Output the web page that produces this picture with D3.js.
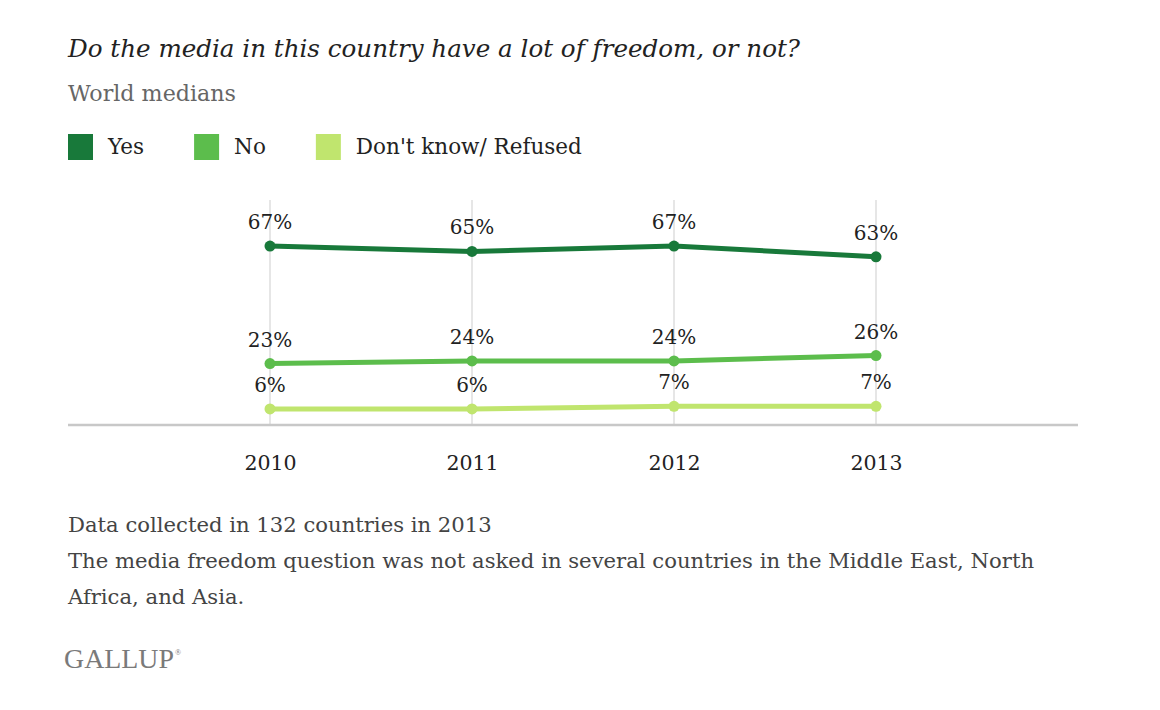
<!DOCTYPE html>
<html>
<head>
<meta charset="utf-8">
<script src="https://cdn.jsdelivr.net/npm/d3@7"></script>
<style>
  html, body { margin: 0; padding: 0; background: #fff; }
  svg { display: block; font-family: "DejaVu Serif", "Liberation Serif", serif; }
</style>
</head>
<body>
<svg id="chart" width="1160" height="710"></svg>
<script>
// ---- data ----
const years = ["2010", "2011", "2012", "2013"];
const seriesNames = ["Yes", "No", "Don't know/ Refused"];
const yesValues = [67, 65, 67, 63];
const noValues = [23, 24, 24, 26];
const dkValues = [6, 6, 7, 7];
const seriesColors = ["#18793a", "#5cbd4c", "#c0e56e"];

const title = "Do the media in this country have a lot of freedom, or not?";
const subtitle = "World medians";
const notes = [
  "Data collected in 132 countries in 2013",
  "The media freedom question was not asked in several countries in the Middle East, North",
  "Africa, and Asia."
];

const series = [
  { name: seriesNames[0], values: yesValues, color: seriesColors[0] },
  { name: seriesNames[1], values: noValues, color: seriesColors[1] },
  { name: seriesNames[2], values: dkValues, color: seriesColors[2] }
];

const svg = d3.select("#chart");

// fit a text element to a target width by scaling font size; returns new size
function fitWidth(sel, target) {
  const node = sel.node();
  const w = node.getComputedTextLength();
  const fs = parseFloat(sel.attr("font-size"));
  const nfs = fs * target / w;
  sel.attr("font-size", nfs.toFixed(2));
  return nfs;
}

// ---- header ----
const t = svg.append("text").attr("x", 68).attr("y", 57)
  .attr("font-size", 26).attr("font-style", "italic").attr("fill", "#222")
  .text(title);
fitWidth(t, 732);

const st = svg.append("text").attr("x", 68).attr("y", 101)
  .attr("font-size", 19).attr("fill", "#666").text(subtitle);
fitWidth(st, 168);

// ---- legend ----
const legend = svg.append("g");
let lx = 68;
series.forEach((s, i) => {
  const g = legend.append("g").attr("transform", `translate(${lx},134)`);
  g.append("rect").attr("width", 25).attr("height", 26).attr("fill", s.color);
  const tx = g.append("text").attr("x", 40).attr("y", 20)
    .attr("font-size", 21.5).attr("fill", "#222").text(s.name);
  lx += 40 + tx.node().getComputedTextLength() + 50;
});

// ---- scales ----
const x = d3.scalePoint().domain(years).range([68, 1078]).padding(1);
const y = d3.scaleLinear().domain([0, 100]).range([425, 158]);

// gridlines
svg.append("g").selectAll("line").data(years).join("line")
  .attr("x1", d => x(d)).attr("x2", d => x(d))
  .attr("y1", 200).attr("y2", 425)
  .attr("stroke", "#d6d6d6").attr("stroke-width", 1.2);

// x axis
const xAxis = svg.append("g").attr("transform", "translate(0,425)")
  .call(d3.axisBottom(x).tickSize(0).tickPadding(30));
xAxis.select(".domain").attr("stroke", "#c8c8c8").attr("stroke-width", 2.5)
  .attr("d", "M68,0H1078");
xAxis.selectAll("text").attr("font-size", 20.5).attr("fill", "#222")
  .attr("font-family", "DejaVu Serif, Liberation Serif, serif");

// lines
const line = d3.line().x((d, i) => x(years[i])).y(d => y(d));
series.forEach(s => {
  const g = svg.append("g");
  g.append("path").datum(s.values).attr("d", line)
    .attr("fill", "none").attr("stroke", s.color).attr("stroke-width", 5)
    .attr("stroke-linejoin", "round");
  g.selectAll("circle").data(s.values).join("circle")
    .attr("cx", (d, i) => x(years[i])).attr("cy", d => y(d)).attr("r", 5.5)
    .attr("fill", s.color);
  g.selectAll("text").data(s.values).join("text")
    .attr("x", (d, i) => x(years[i])).attr("y", d => y(d) - 17)
    .attr("text-anchor", "middle").attr("font-size", 20).attr("fill", "#222")
    .text(d => d + "%");
});

// ---- notes ----
const noteSel = notes.map((n, i) =>
  svg.append("text").attr("x", 68).attr("y", 532 + i * 36)
    .attr("font-size", 19).attr("fill", "#444").text(n));
const nfs = fitWidth(noteSel[1], 966);
noteSel.forEach(s => s.attr("font-size", nfs.toFixed(2)));

// ---- source ----
const gal = svg.append("text").attr("x", 64).attr("y", 668)
  .attr("font-size", 26).attr("fill", "#7a7a7a")
  .attr("font-family", "Liberation Serif, serif")
  .text("GALLUP");
fitWidth(gal, 110);
svg.append("text").attr("x", 175).attr("y", 655)
  .attr("font-size", 8).attr("fill", "#7a7a7a")
  .attr("font-family", "Liberation Serif, serif").text("®");
</script>
</body>
</html>
